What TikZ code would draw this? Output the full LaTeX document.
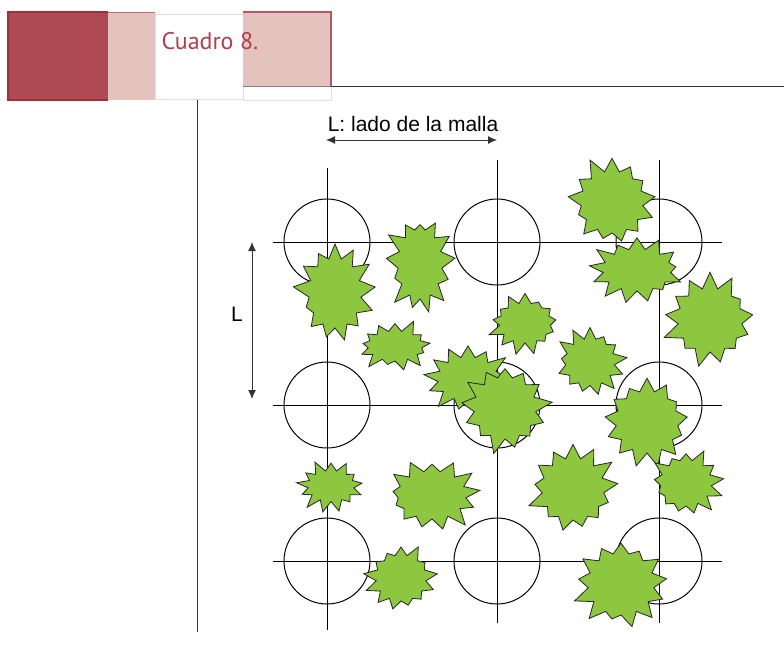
\documentclass[tikz,border=0pt]{standalone}
\usepackage{fontspec}
\setmainfont{Liberation Sans}
\newfontfamily\headfont{PT Sans}
\usepackage{tikz}
\usetikzlibrary{shapes.symbols,arrows.meta,positioning}
\usepackage{xcolor}
\definecolor{headdark}{RGB}{174,74,82}
\definecolor{headedge}{RGB}{160,45,60}
\definecolor{headpink}{RGB}{228,195,190}
\definecolor{headfaint}{RGB}{240,215,218}
\definecolor{headtext}{RGB}{178,62,76}
\definecolor{shrubgreen}{RGB}{141,198,63}

\tikzset{
  shrub/.style={starburst, draw=black!85, fill=shrubgreen, line width=0.8pt,
    inner sep=0pt, starburst points=13, starburst point height=17pt},
  small shrub/.style={shrub, starburst point height=13pt},
  gridline/.style={draw=black, line width=0.9pt},
  plantpit/.style={draw=black, line width=1pt},
  dimline/.style={draw=black!80, line width=0.9pt, >={Latex[length=9pt,width=8pt]}, <->}
}

\begin{document}
\begin{tikzpicture}[x=1pt, y=-1pt]
  \useasboundingbox (0,0) rectangle (784,648);

  % Header band
  \fill[headdark] (8,12) rectangle (108,100);
  \draw[headedge, line width=1.2pt] (108,12) -- (8,12) -- (8,100) -- (108,100);
  \fill[headpink] (108,12) rectangle (155,100);
  \draw[headedge!70, line width=1pt] (108,12) -- (155,12);
  \draw[headfaint, line width=0.8pt] (155,14) rectangle (243,99);
  \fill[headpink] (243,12) rectangle (331,86);
  \draw[headedge!80, line width=1.2pt] (243,12) -- (331,12) -- (331,86);
  \draw[headfaint, line width=0.8pt] (243,86) rectangle (331,100);
  \node[font=\headfont\fontsize{24}{27}\selectfont, text=headtext, anchor=base west] (title) at (158,49) {Cuadro 8.};
  \draw[black!50, line width=1pt] (243,86) -- (331,86);
  \draw[black!80, line width=1pt] (331,86) -- (784,86);
  \draw[black!80, line width=0.9pt] (197,100) -- (197,632);

  % Planting grid
  \draw[gridline] (327,168) -- (327,630);
  \draw[gridline] (497,160) -- (497,623);
  \draw[gridline] (659,160) -- (659,623);
  \foreach \y in {242,405,561} {
    \draw[gridline] (273,\y) -- (722,\y);
  }
  \foreach \x in {327,497,659} {
    \foreach \y in {242,405,561} {
      \draw[plantpit] (\x,\y) circle (43);
    }
  }

  % Mesh side
  \node[font=\fontsize{21}{24}\selectfont, anchor=base] (side) at (413,131) {L: lado de la malla};
  \coordinate (sideL) at (326,140);
  \coordinate (sideR) at (497,140);
  \draw[dimline] (sideL) -- (sideR);
  \coordinate (vtop) at (252,242);
  \coordinate (vbot) at (252,399);
  \draw[dimline] (vtop) -- (vbot);
  \node[font=\fontsize{21}{24}\selectfont, anchor=base] (sideV) at (237,321) {L};

  % Spontaneous vegetation
  \node[shrub, minimum width=96pt, minimum height=96pt, random starburst=11] (s1) at (612,202) {};
  \node[shrub, minimum width=78pt, minimum height=104pt, random starburst=23] (s2) at (420,264) {};
  \node[shrub, minimum width=86pt, minimum height=104pt, random starburst=37] (s3) at (335,293) {};
  \node[shrub, minimum width=102pt, minimum height=76pt, random starburst=41] (s4) at (637,270) {};
  \node[shrub, minimum width=98pt, minimum height=98pt, random starburst=53] (s5) at (710,320) {};
  \node[small shrub, minimum width=77pt, minimum height=66pt, random starburst=67] (s6) at (525,323) {};
  \node[small shrub, minimum width=80pt, minimum height=56pt, random starburst=71] (s7) at (395,346) {};
  \node[small shrub, minimum width=75pt, minimum height=73pt, random starburst=83] (s8) at (590,362) {};
  \node[shrub, minimum width=94pt, minimum height=78pt, random starburst=97] (s9) at (468,379) {};
  \node[shrub, minimum width=96pt, minimum height=96pt, random starburst=101] (s10) at (505,408) {};
  \node[shrub, minimum width=96pt, minimum height=96pt, random starburst=113] (s11) at (647,422) {};
  \node[small shrub, minimum width=72pt, minimum height=57pt, random starburst=127] (s12) at (331,486) {};
  \node[shrub, minimum width=102pt, minimum height=82pt, random starburst=131] (s13) at (432,495) {};
  \node[shrub, minimum width=96pt, minimum height=96pt, random starburst=149] (s14) at (573,489) {};
  \node[small shrub, minimum width=77pt, minimum height=72pt, random starburst=157] (s15) at (686,483) {};
  \node[small shrub, minimum width=76pt, minimum height=72pt, random starburst=163] (s16) at (401,578) {};
  \node[shrub, minimum width=100pt, minimum height=96pt, random starburst=173] (s17) at (621,584) {};
\end{tikzpicture}
\end{document}
